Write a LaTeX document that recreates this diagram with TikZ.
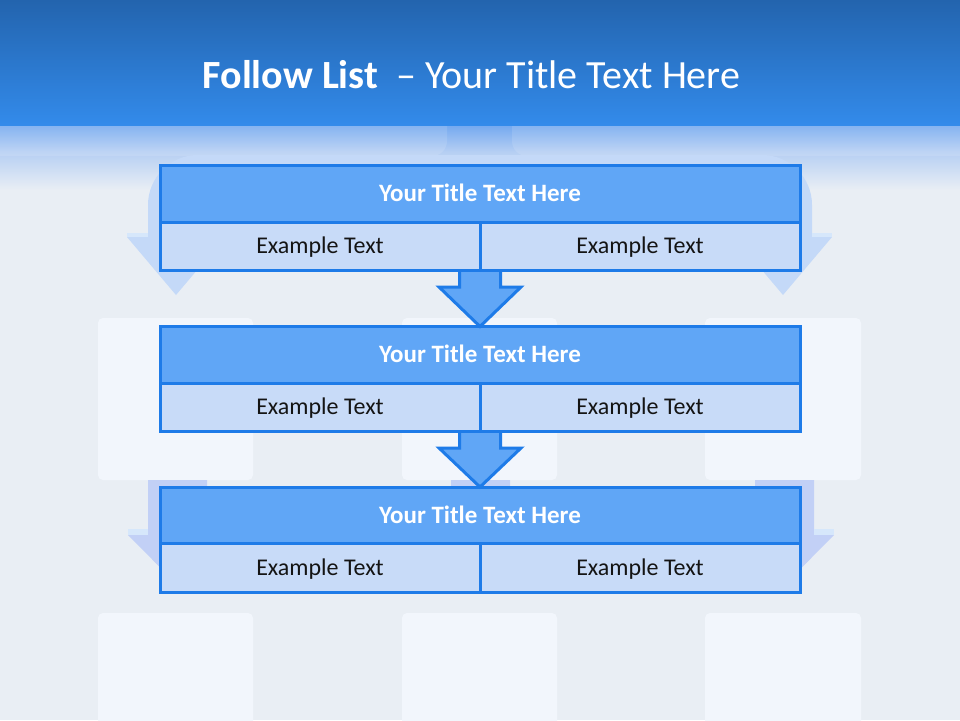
\documentclass[tikz,border=0pt]{standalone}
\usepackage{fontspec}
\setmainfont{Carlito}
\usetikzlibrary{calc}
\definecolor{hdrtop}{RGB}{35,100,174}
\definecolor{hdrbot}{RGB}{51,139,235}
\definecolor{fadeA}{RGB}{118,170,240}
\definecolor{fadeB}{RGB}{182,207,243}
\definecolor{bgc}{RGB}{233,238,244}
\definecolor{boxline}{RGB}{30,123,232}
\definecolor{titlefill}{RGB}{96,166,246}
\definecolor{cellfill}{RGB}{200,219,248}
\definecolor{decoarrow}{RGB}{196,217,248}
\definecolor{decolight}{RGB}{214,231,251}
\definecolor{decolav}{RGB}{194,208,246}
\definecolor{decobox}{RGB}{242,246,252}
\definecolor{celltext}{RGB}{20,20,20}
\begin{document}
\begin{tikzpicture}[x=1pt,y=-1pt,
  titlecell/.style={draw=boxline, line width=3pt, fill=titlefill, minimum width=640pt,
    minimum height=56.5pt, inner sep=0pt, outer sep=0pt, text=white,
    font=\fontsize{25}{28}\selectfont\bfseries, text height=16.1pt, text depth=0pt},
  cell/.style={draw=boxline, line width=3pt, fill=cellfill, minimum width=320pt,
    minimum height=48.5pt, inner sep=0pt, outer sep=0pt, text=celltext,
    font=\fontsize{24}{28}\selectfont, text height=15.4pt, text depth=0pt},
  blockarrow/.style={fill=titlefill, draw=boxline, line width=3pt, line join=miter},
  decobg/.style={fill=decobox, rounded corners=5pt}
]
\useasboundingbox (0,0) rectangle (960,720);
% background
\fill[bgc] (0,0) rectangle (960,720);
% header
\shade[top color=hdrtop, bottom color=hdrbot] (0,0) rectangle (960,126);
\shade[top color=fadeA, bottom color=fadeB] (0,126) rectangle (960,152);
\shade[top color=fadeB, bottom color=bgc] (0,152) rectangle (960,190);
\fill[white, opacity=0.12] (-20,126) -- (447,126) [rounded corners=15pt] -- (447,156) [sharp corners] -- (-20,156) -- cycle;
\fill[white, opacity=0.12] (980,126) -- (512,126) [rounded corners=15pt] -- (512,156) [sharp corners] -- (980,156) -- cycle;
% decorative background hierarchy
\fill[decoarrow] (127,237) -- (148,237) [rounded corners=50pt] -- (148,155) -- (812,155) [sharp corners] -- (812,237)
  -- (832,237) -- (783,295) -- (734,237) -- (225,237) -- (176,295) -- cycle;
\fill[decolight] (127,233) rectangle (148,237);
\fill[decolight] (812,233) rectangle (832,237);
\fill[decobg] (98,318) rectangle (253,480);
\fill[decobg] (402,318) rectangle (557,480);
\fill[decobg] (705,318) rectangle (861,480);
\fill[decobg] (98,613) rectangle (253,740);
\fill[decobg] (402,613) rectangle (557,740);
\fill[decobg] (705,613) rectangle (861,740);
\fill[decolav] (148,480) -- (148,535) -- (128,535) -- (177.5,585) -- (227,535) -- (207,535) -- (207,480) -- cycle;
\fill[decolav] (451,480) -- (451,535) -- (431,535) -- (480.5,585) -- (530,535) -- (510,535) -- (510,480) -- cycle;
\fill[decolav] (755,480) -- (755,535) -- (735,535) -- (784.5,585) -- (834,535) -- (814,535) -- (814,480) -- cycle;
\fill[decolight] (128,529) rectangle (148,535);
\fill[decolight] (814,529) rectangle (834,535);
% title
\node[anchor=base, text=white, font=\fontsize{40}{44}\selectfont, inner sep=0pt] (title) at (471.5,88)
  {\textbf{Follow List}\ \ -- Your Title Text Here};
% boxes
\coordinate (p1) at (480,165.5);
\coordinate (p2) at (480,326.5);
\coordinate (p3) at (480,487);
\node[titlecell, anchor=north] (t1) at (p1) {Your Title Text Here};
\node[cell, anchor=north east] (l1) at (t1.south) {Example Text};
\node[cell, anchor=north west] (r1) at (t1.south) {Example Text};
\node[titlecell, anchor=north] (t2) at (p2) {Your Title Text Here};
\node[cell, anchor=north east] (l2) at (t2.south) {Example Text};
\node[cell, anchor=north west] (r2) at (t2.south) {Example Text};
\node[titlecell, anchor=north] (t3) at (p3) {Your Title Text Here};
\node[cell, anchor=north east] (l3) at (t3.south) {Example Text};
\node[cell, anchor=north west] (r3) at (t3.south) {Example Text};
% arrows
\path[blockarrow] ($(l1.south east)+(-20.5,-1.5)$) -- ($(l1.south east)+(-20.5,16.5)$) -- ($(l1.south east)+(-41,16.5)$)
  -- (t2.north) -- ($(l1.south east)+(41,16.5)$) -- ($(l1.south east)+(20.5,16.5)$) -- ($(l1.south east)+(20.5,-1.5)$);
\path[blockarrow] ($(l2.south east)+(-20.5,-1.5)$) -- ($(l2.south east)+(-20.5,16.5)$) -- ($(l2.south east)+(-41,16.5)$)
  -- (t3.north) -- ($(l2.south east)+(41,16.5)$) -- ($(l2.south east)+(20.5,16.5)$) -- ($(l2.south east)+(20.5,-1.5)$);
% redraw borders touched by arrows
\draw[boxline, line width=3pt] (l1.south west) -- (r1.south east);
\draw[boxline, line width=3pt] (l1.north east) -- (l1.south east);
\draw[boxline, line width=3pt] (t2.north west) -- (t2.north east);
\draw[boxline, line width=3pt] (l2.south west) -- (r2.south east);
\draw[boxline, line width=3pt] (l2.north east) -- (l2.south east);
\draw[boxline, line width=3pt] (t3.north west) -- (t3.north east);
\end{tikzpicture}
\end{document}
